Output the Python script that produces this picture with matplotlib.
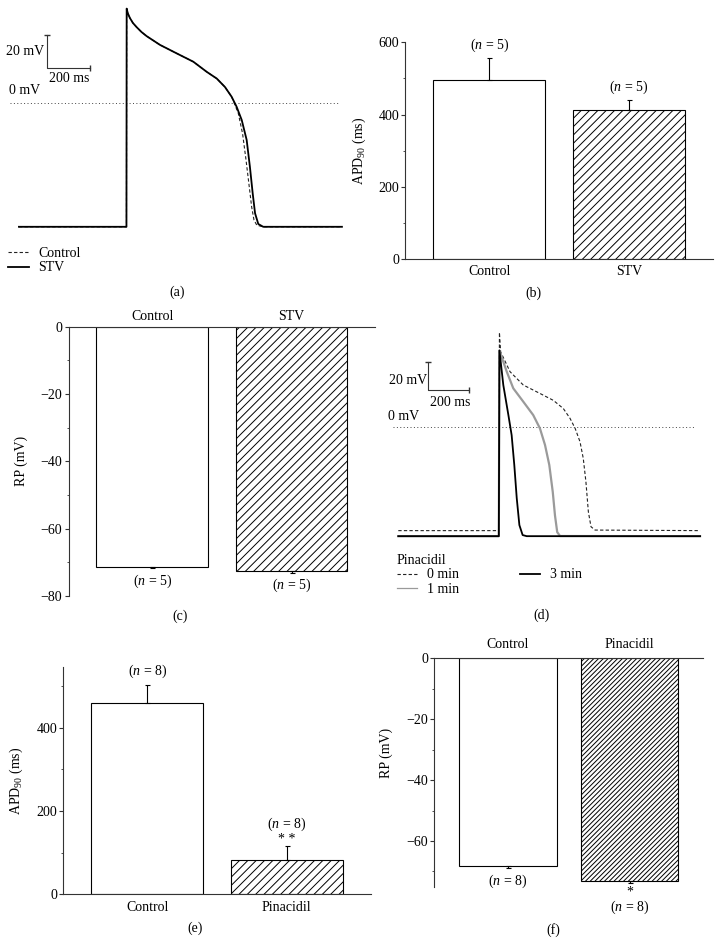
import matplotlib
matplotlib.use("Agg")
import matplotlib.pyplot as plt
from matplotlib.ticker import MultipleLocator

plt.rcParams['font.family'] = ['Liberation Serif', 'DejaVu Serif']
plt.rcParams['font.size'] = 10
plt.rcParams['mathtext.fontset'] = 'custom'
plt.rcParams['mathtext.rm'] = 'Liberation Serif'
plt.rcParams['mathtext.it'] = 'Liberation Serif:italic'
plt.rcParams['hatch.linewidth'] = 0.7

# (a) action potentials, time (ms) / membrane potential (mV)
a_stv_t = [0, 500, 501, 506, 516, 530, 547, 570, 594, 656, 733, 811, 873, 920, 958, 989, 1012, 1036, 1059, 1074, 1087, 1098, 1113, 1136, 1502]
a_stv_v = [-75, -75, 57.2, 54.5, 51.5, 48.5, 46.0, 43.0, 40.5, 35.2, 30.1, 25.0, 18.9, 14.8, 9.7, 3.8, -2.2, -10.3, -22.4, -38.6, -54.7, -66.8, -73.3, -75, -75]
a_ctl_t = [0, 500, 501, 506, 516, 530, 547, 570, 594, 656, 733, 811, 873, 920, 958, 989, 1020, 1040, 1056, 1071, 1082, 1093, 1106, 1135, 1502]
a_ctl_v = [-75, -75, 57.2, 54.5, 51.5, 48.5, 46.0, 43.0, 40.5, 35.2, 30.1, 25.0, 18.9, 14.8, 9.7, 3.8, -6.2, -18.6, -34.5, -50.7, -62.8, -70.9, -74, -75, -75]

# (b) APD90
b_groups = ['Control', 'STV']
b_apd = [495, 413]
b_err = [62, 27]
b_n = [5, 5]

# (c) resting potential
c_groups = ['Control', 'STV']
c_rp = [-71.3, -72.6]
c_err = [0.4, 0.5]
c_n = [5, 5]

# (d) pinacidil traces
d_t0 = [0, 494, 497, 503, 549, 614, 696, 762, 811, 844, 869, 893, 909, 922, 934, 947, 967, 1483]
d_v0 = [-75, -75, 68, 54, 39.7, 30.1, 24.0, 19.0, 13.1, 6.0, -1.2, -10.9, -22.9, -39.8, -61.4, -72.2, -74.6, -75]
d_t1 = [0, 494, 497, 533, 565, 614, 663, 696, 721, 742, 759, 770, 781, 795, 1483]
d_v1 = [-79, -79, 55, 39.7, 27.7, 18.1, 8.4, -1.2, -13.2, -27.6, -47.0, -64.1, -76.1, -78.9, -79]
d_t3 = [0, 494, 497, 516, 541, 557, 570, 582, 595, 611, 631, 1483]
d_v3 = [-79, -79, 55, 30.1, 8.4, -6.1, -27.6, -51.5, -71, -78.2, -79, -79]

# (e) APD90 with pinacidil
e_groups = ['Control', 'Pinacidil']
e_apd = [458, 82]
e_err = [43, 34]
e_n = [8, 8]

# (f) resting potential with pinacidil
f_groups = ['Control', 'Pinacidil']
f_rp = [-68.3, -73.2]
f_err = [0.6, 0.6]
f_n = [8, 8]

W, H = 721, 943
fig = plt.figure(figsize=(W / 100, H / 100), dpi=100)


def box(left, top, width, height):
    # pixel box -> figure fraction
    return [left / W, 1 - (top + height) / H, width / W, height / H]


def fx(px):
    return px / W


def fy(py):
    return 1 - py / H


SPINE = '#333333'


def bar_panel(ax, groups, vals, errs, hatch, down=False):
    x = list(range(len(groups)))
    for i, v in enumerate(vals):
        ax.bar(x[i], v, width=0.8, color='white', edgecolor='black', linewidth=0.8,
               hatch=hatch if i == 1 else None, zorder=2)
    zeros = [0] * len(errs)
    yerr = [errs, zeros] if down else [zeros, errs]
    ax.errorbar(x, vals, yerr=yerr, fmt='none', ecolor='black', elinewidth=0.8,
                capsize=1.8, capthick=0.8, zorder=3)
    ax.set_xlim(-0.6, 1.6)
    ax.set_xticks(x, groups)
    ax.spines['right'].set_visible(False)
    if down:
        ax.spines['bottom'].set_visible(False)
        ax.xaxis.tick_top()
    else:
        ax.spines['top'].set_visible(False)
    for s in ax.spines.values():
        s.set_color(SPINE)
        s.set_linewidth(0.8)
    ax.tick_params(axis='y', which='major', length=3, width=0.8, direction='out', pad=1.5, color=SPINE)
    ax.tick_params(axis='y', which='minor', length=1.5, width=0.6, direction='out', color=SPINE)
    ax.tick_params(axis='x', length=0)


# ---- (a)
ax_a = fig.add_axes(box(0, 0, 360, 240))
ax_a.set_xlim(-88, 1586)
ax_a.set_ylim(-83, 62.4)
ax_a.axis('off')
ax_a.hlines(0, -42, 1483, colors='#444444', linestyles=(0, (1, 2.5)), linewidth=0.7)
l_ctl, = ax_a.plot(a_ctl_t, a_ctl_v, color='#222222', lw=0.8, ls=(0, (3, 2)))
l_stv, = ax_a.plot(a_stv_t, a_stv_v, color='black', lw=1.3)
ax_a.plot([130, 130, 330], [41, 21, 21], color=SPINE, lw=0.8)
ax_a.plot([130], [41], marker='_', ms=4, color=SPINE)
ax_a.plot([330], [21], marker='|', ms=4, color=SPINE)
fig.text(fx(44), fy(51.7), '20 mV', ha='right', va='center')
fig.text(fx(69.5), fy(79), '200 ms', ha='center', va='center')
fig.text(fx(9), fy(90), '0 mV', ha='left', va='center')
ax_a.legend([l_ctl, l_stv], ['Control', 'STV'], loc='upper left',
            bbox_to_anchor=(fx(8), fy(247)), bbox_transform=fig.transFigure,
            frameon=False, borderpad=0, borderaxespad=0, handlelength=1.5,
            handletextpad=0.7, labelspacing=0.1)
fig.text(fx(177), fy(292), '(a)', ha='center', va='center')

# ---- (b)
ax_b = fig.add_axes(box(405.4, 42.3, 307.6, 216.7))
bar_panel(ax_b, b_groups, b_apd, b_err, '////')
ax_b.set_ylim(0, 600)
ax_b.yaxis.set_major_locator(MultipleLocator(200))
ax_b.yaxis.set_minor_locator(MultipleLocator(100))
ax_b.tick_params(axis='x', pad=4)
ax_b.set_ylabel('APD$_{90}$ (ms)')
ax_b.yaxis.set_label_coords((368.3 - 405.4) / 307.6, 0.5)
for i, v in enumerate(b_apd):
    ax_b.annotate(f'($n$ = {b_n[i]})', (i, v + b_err[i]), xytext=(0, 3),
                  textcoords='offset points', ha='center', va='bottom')
fig.text(fx(533), fy(293), '(b)', ha='center', va='center')

# ---- (c)
ax_c = fig.add_axes(box(68.6, 326.7, 306.5, 269.3))
bar_panel(ax_c, c_groups, c_rp, c_err, '////', down=True)
ax_c.set_ylim(-80, 0)
ax_c.yaxis.set_major_locator(MultipleLocator(20))
ax_c.yaxis.set_minor_locator(MultipleLocator(10))
ax_c.tick_params(axis='x', pad=2.5)
ax_c.set_ylabel('RP (mV)')
ax_c.yaxis.set_label_coords((28.3 - 68.6) / 306.5, 0.5)
for i, v in enumerate(c_rp):
    ax_c.annotate(f'($n$ = {c_n[i]})', (i, v - c_err[i]), xytext=(0, -3),
                  textcoords='offset points', ha='center', va='top')
fig.text(fx(180), fy(616), '(c)', ha='center', va='center')

# ---- (d)
ax_d = fig.add_axes(box(360, 320, 361, 240))
ax_d.set_xlim(-188.2, 1585.8)
ax_d.set_ylim(-96.2, 77)
ax_d.axis('off')
ax_d.hlines(0, -26, 1458, colors='#444444', linestyles=(0, (1, 2.5)), linewidth=0.7)
l0, = ax_d.plot(d_t0, d_v0, color='#222222', lw=0.8, ls=(0, (3, 2)))
l1, = ax_d.plot(d_t1, d_v1, color='#9a9a9a', lw=1.6)
l3, = ax_d.plot(d_t3, d_v3, color='black', lw=1.3)
ax_d.plot([147, 147, 347], [46.5, 26.5, 26.5], color=SPINE, lw=0.8)
ax_d.plot([147], [46.5], marker='_', ms=4, color=SPINE)
ax_d.plot([347], [26.5], marker='|', ms=4, color=SPINE)
fig.text(fx(426.7), fy(380), '20 mV', ha='right', va='center')
fig.text(fx(450), fy(402.3), '200 ms', ha='center', va='center')
fig.text(fx(388), fy(416.7), '0 mV', ha='left', va='center')
l1_leg = plt.Line2D([], [], color='#9a9a9a', lw=0.9)
ax_d.legend([l0, l1_leg, l3], ['0 min', '1 min', '3 min'], ncol=2, title='Pinacidil',
            alignment='left', title_fontsize=10, loc='upper left',
            bbox_to_anchor=(fx(397), fy(554)), bbox_transform=fig.transFigure,
            frameon=False, borderpad=0, borderaxespad=0, handlelength=1.45,
            handletextpad=0.7, labelspacing=0.1, columnspacing=4.4)
fig.text(fx(542), fy(615), '(d)', ha='center', va='center')

# ---- (e)
ax_e = fig.add_axes(box(63.4, 666.7, 307.1, 227.6))
bar_panel(ax_e, e_groups, e_apd, e_err, '////')
ax_e.set_ylim(0, 546)
ax_e.yaxis.set_major_locator(MultipleLocator(200))
ax_e.yaxis.set_minor_locator(MultipleLocator(100))
ax_e.tick_params(axis='x', pad=4.5)
ax_e.set_ylabel('APD$_{90}$ (ms)')
ax_e.yaxis.set_label_coords((25 - 63.4) / 307.1, 0.5)
ax_e.annotate(f'($n$ = {e_n[0]})', (0, e_apd[0] + e_err[0]), xytext=(0, 4),
              textcoords='offset points', ha='center', va='bottom')
ax_e.annotate(f'($n$ = {e_n[1]})\n* *', (1, e_apd[1] + e_err[1]), xytext=(0, 0),
              textcoords='offset points', ha='center', va='bottom', linespacing=1.0)
fig.text(fx(195), fy(928), '(e)', ha='center', va='center')

# ---- (f)
ax_f = fig.add_axes(box(434.5, 658.3, 268.4, 228.4))
bar_panel(ax_f, f_groups, f_rp, f_err, '///////', down=True)
ax_f.set_ylim(-75, 0)
ax_f.yaxis.set_major_locator(MultipleLocator(20))
ax_f.yaxis.set_minor_locator(MultipleLocator(10))
ax_f.tick_params(axis='x', pad=5)
ax_f.set_ylabel('RP (mV)')
ax_f.yaxis.set_label_coords((393.3 - 434.5) / 268.4, 0.585)
ax_f.annotate(f'($n$ = {f_n[0]})', (0, f_rp[0] - f_err[0]), xytext=(0, -3),
              textcoords='offset points', ha='center', va='top')
ax_f.annotate(f'*\n($n$ = {f_n[1]})', (1, f_rp[1] - f_err[1]), xytext=(0, -2),
              textcoords='offset points', ha='center', va='top', linespacing=1.0)
fig.text(fx(553), fy(930), '(f)', ha='center', va='center')

fig.savefig('out.png', dpi=100)
